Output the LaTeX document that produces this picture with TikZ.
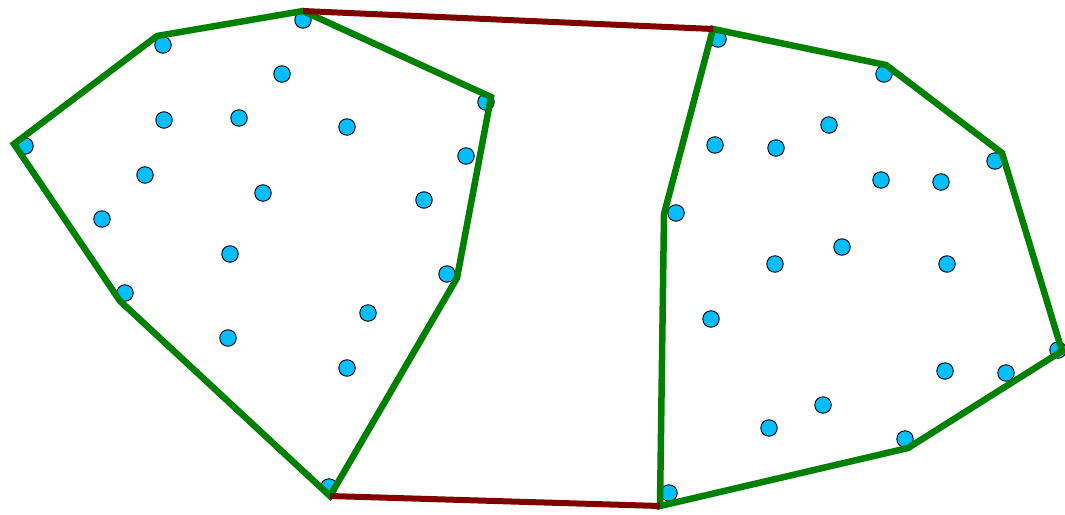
\documentclass[tikz,border=0pt]{standalone}
\usetikzlibrary{calc}
\definecolor{hullgreen}{RGB}{0,128,0}
\definecolor{bridgered}{RGB}{128,0,0}
\definecolor{dotblue}{RGB}{0,190,255}
\tikzset{
  pt/.style={circle, fill=dotblue, draw=black, line width=0.9pt, minimum size=16.5pt, inner sep=0pt},
  hull/.style={draw=hullgreen, line width=6.5pt, line join=miter},
  bridge/.style={draw=bridgered, line width=6pt}
}
\begin{document}
\begin{tikzpicture}[x=1pt,y=-1pt]
\useasboundingbox (0,0) rectangle (1065,514);
% left hull vertices
\coordinate (L1) at (303,11);
\coordinate (L2) at (491,97);
\coordinate (L3) at (457,278);
\coordinate (L4) at (330,496);
\coordinate (L5) at (120,301);
\coordinate (L6) at (14,144);
\coordinate (L7) at (157,36);
% right hull vertices
\coordinate (R1) at (713,29);
\coordinate (R2) at (886,65);
\coordinate (R3) at (1002,153);
\coordinate (R4) at (1062,351);
\coordinate (R5) at (908,448);
\coordinate (R6) at (660,506);
\coordinate (R7) at (664,214);
% left points
\foreach \i/\x/\y in {a/303/20,b/163/45,c/282/74,d/164/120,e/239/118,f/347/127,g/25/146,h/486/102,i/466/156,j/145/175,k/263/193,l/424/200,m/102/219,n/230/254,o/125/293,p/447/274,q/368/313,r/228/338,s/347/368,t/329/487}
  \node[pt] (P\i) at (\x,\y) {};
% right points
\foreach \i/\x/\y in {a/718/39,b/884/74,c/829/125,d/715/145,e/776/148,f/995/161,g/881/180,h/941/182,i/676/213,j/842/247,k/775/264,l/947/264,m/711/319,n/1058/350,o/945/371,p/1006/373,q/823/405,r/769/428,s/905/439,t/669/493}
  \node[pt] (Q\i) at (\x,\y) {};
% hulls
\draw[hull] (L1) -- (L2) -- (L3) -- (L4) -- (L5) -- (L6) -- (L7) -- cycle;
\draw[hull] (R1) -- (R2) -- (R3) -- (R4) -- (R5) -- (R6) -- (R7) -- cycle;
% bridges
\draw[bridge] (L1) -- (R1);
\draw[bridge] (L4) -- (R6);
\end{tikzpicture}
\end{document}
